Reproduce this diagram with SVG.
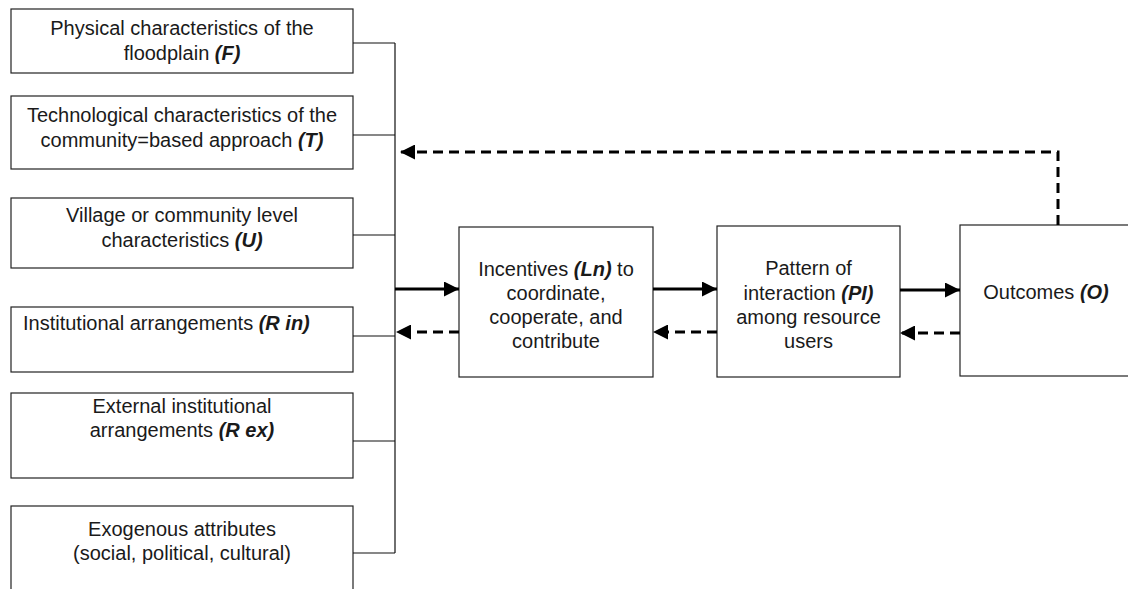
<svg xmlns="http://www.w3.org/2000/svg" width="1128" height="589" viewBox="0 0 1128 589">
<style>
.box{fill:#fff;stroke:#222;stroke-width:1.2}
.t{font-family:"Liberation Sans",Arial,sans-serif;font-size:20px;fill:#1a1a1a}
.c{text-anchor:middle}
.b{font-weight:bold;font-style:italic}
.bus{fill:none;stroke:#111;stroke-width:1.2}
.sol{fill:none;stroke:#000;stroke-width:3}
.dsh{fill:none;stroke:#000;stroke-width:3;stroke-dasharray:10 6}
</style>
<defs>
<marker id="ah" markerWidth="16" markerHeight="15" refX="15" refY="7.5" orient="auto" markerUnits="userSpaceOnUse">
<path d="M0,0 L15,7.5 L0,15 Z" fill="#000"/>
</marker>
</defs>
<rect width="1128" height="589" fill="#fff"/>
<g id="n-F"><rect class="box" x="11" y="9" width="342" height="64"/>
<text class="t c" x="182" y="35">Physical characteristics of the</text>
<text class="t c" x="182" y="60">floodplain <tspan class="b">(F)</tspan></text></g>
<g id="n-T"><rect class="box" x="11" y="96" width="342" height="73"/>
<text class="t c" x="182" y="122">Technological characteristics of the</text>
<text class="t c" x="182" y="147">community=based approach <tspan class="b">(T)</tspan></text></g>
<g id="n-U"><rect class="box" x="11" y="198" width="342" height="70"/>
<text class="t c" x="182" y="222">Village or community level</text>
<text class="t c" x="182" y="247">characteristics <tspan class="b">(U)</tspan></text></g>
<g id="n-Rin"><rect class="box" x="11" y="307" width="342" height="65"/>
<text class="t" x="23" y="330">Institutional arrangements <tspan class="b">(R in)</tspan></text></g>
<g id="n-Rex"><rect class="box" x="11" y="393" width="342" height="85"/>
<text class="t c" x="182" y="413">External institutional</text>
<text class="t c" x="182" y="437">arrangements <tspan class="b">(R ex)</tspan></text></g>
<g id="n-X"><rect class="box" x="11" y="506" width="342" height="90"/>
<text class="t c" x="182" y="536">Exogenous attributes</text>
<text class="t c" x="182" y="560">(social, political, cultural)</text></g>
<g id="n-Ln"><rect class="box" x="459" y="227" width="194" height="150"/>
<text class="t c" x="556" y="276">Incentives <tspan class="b">(Ln)</tspan> to</text>
<text class="t c" x="556" y="300">coordinate,</text>
<text class="t c" x="556" y="324">cooperate, and</text>
<text class="t c" x="556" y="348">contribute</text></g>
<g id="n-PI"><rect class="box" x="717" y="226" width="183" height="151"/>
<text class="t c" x="808.5" y="275">Pattern of</text>
<text class="t c" x="808.5" y="300">interaction <tspan class="b">(PI)</tspan></text>
<text class="t c" x="808.5" y="324">among resource</text>
<text class="t c" x="808.5" y="348">users</text></g>
<g id="n-O"><rect class="box" x="960" y="225" width="180" height="151"/>
<text class="t c" x="1046" y="299">Outcomes <tspan class="b">(O)</tspan></text></g>
<g id="connectors">
<path class="bus" d="M353,43 H395 M353,135 H395 M353,235 H395 M353,336 H395 M353,441 H395 M353,553 H395 M395,43 V553"/>
<line class="sol" x1="395" y1="289" x2="459" y2="289" marker-end="url(#ah)"/>
<line class="dsh" x1="459" y1="332" x2="396" y2="332" marker-end="url(#ah)"/>
<line class="sol" x1="653" y1="289" x2="717" y2="289" marker-end="url(#ah)"/>
<line class="dsh" x1="717" y1="332" x2="653" y2="332" marker-end="url(#ah)"/>
<line class="sol" x1="900" y1="290" x2="960" y2="290" marker-end="url(#ah)"/>
<line class="dsh" x1="960" y1="333" x2="900" y2="333" marker-end="url(#ah)"/>
<polyline class="dsh" points="1058,225 1058,152 400,152" marker-end="url(#ah)"/>
</g>
</svg>
